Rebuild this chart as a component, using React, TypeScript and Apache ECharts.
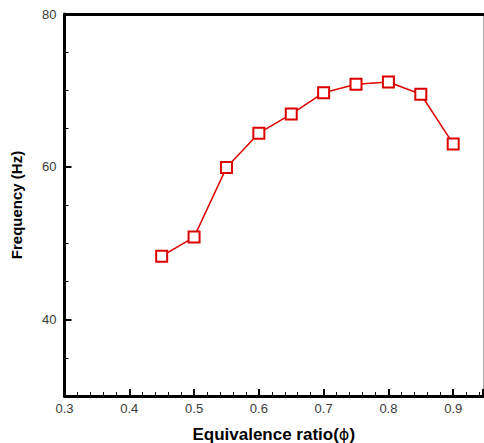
import React, { useEffect, useRef } from "react";
import * as echarts from "echarts";

const phi = [0.45, 0.5, 0.55, 0.6, 0.65, 0.7, 0.75, 0.8, 0.85, 0.9];
const frequency = [48.3, 50.8, 59.9, 64.4, 66.9, 69.7, 70.8, 71.1, 69.5, 63.0];
const yMajorTicks = [40, 60, 80];

export default function App() {
  const ref = useRef<HTMLDivElement>(null);
  useEffect(() => {
    document.body.style.margin = "0";
    const chart = echarts.init(ref.current!, null, { renderer: "svg" });
    const labelStyle = { fontFamily: "Liberation Sans", fontSize: 13, color: "#3a3a3a" };
    chart.setOption({
      animation: false,
      backgroundColor: "#ffffff",
      grid: { left: 64.5, right: 1, top: 14, bottom: 47, outerBoundsMode: "none", containLabel: false },
      xAxis: [
        {
          type: "value",
          min: 0.3,
          max: 0.946,
          interval: 0.1,
          position: "bottom",
          axisLine: { show: true, onZero: false, lineStyle: { color: "#000", width: 3 } },
          axisTick: { show: true, inside: true, length: 7, lineStyle: { color: "#000", width: 2 } },
          minorTick: { show: true, splitNumber: 5, length: 4, lineStyle: { color: "#000", width: 1 } },
          splitLine: { show: false },
          axisLabel: { ...labelStyle, margin: 6, showMaxLabel: false, formatter: (v: number) => v.toFixed(1) },
          name: "{b|Equivalence ratio(}{p|ϕ}{b|)}",
          nameLocation: "middle",
          nameGap: 30,
          nameTextStyle: {
            rich: {
              b: { fontFamily: "Liberation Sans", fontSize: 17, fontWeight: "bold", color: "#000" },
              p: { fontFamily: "DejaVu Sans", fontSize: 16, color: "#000" },
            },
          },
        },
        {
          type: "value",
          min: 0.3,
          max: 0.946,
          position: "top",
          axisLine: { show: true, onZero: false, lineStyle: { color: "#000", width: 3 } },
          axisTick: { show: false },
          axisLabel: { show: false },
          splitLine: { show: false },
        },
      ],
      yAxis: [
        {
          type: "value",
          min: 30,
          max: 80,
          interval: 5,
          position: "left",
          axisLine: { show: true, onZero: false, lineStyle: { color: "#000", width: 3 } },
          axisTick: { show: true, inside: true, length: 4, lineStyle: { color: "#000", width: 1 } },
          splitLine: { show: false },
          axisLabel: {
            ...labelStyle,
            margin: 8,
            formatter: (v: number) => (yMajorTicks.includes(v) ? String(v) : ""),
          },
          name: "Frequency (Hz)",
          nameLocation: "middle",
          nameGap: 41,
          nameTextStyle: { fontFamily: "Liberation Sans", fontSize: 15, fontWeight: "bold", color: "#000" },
        },
        {
          type: "value",
          min: 30,
          max: 80,
          position: "left",
          axisLine: { show: false },
          axisTick: { show: true, inside: true, length: 7, customValues: yMajorTicks, lineStyle: { color: "#000", width: 2 } },
          axisLabel: { show: false },
          splitLine: { show: false },
        },
        {
          type: "value",
          min: 30,
          max: 80,
          position: "right",
          axisLine: { show: true, onZero: false, lineStyle: { color: "#aaa", width: 1 } },
          axisTick: { show: false },
          axisLabel: { show: false },
          splitLine: { show: false },
        },
      ],
      series: [
        {
          type: "line",
          xAxisIndex: 0,
          yAxisIndex: 0,
          data: phi.map((x, i) => [x, frequency[i]]),
          symbol: "rect",
          symbolSize: 11,
          itemStyle: { color: "#fff", borderColor: "#dd0000", borderWidth: 2 },
          lineStyle: { color: "#dd0000", width: 1.5 },
        },
      ],
    });
    return () => chart.dispose();
  }, []);
  return <div ref={ref} style={{ width: 484, height: 443 }} />;
}
